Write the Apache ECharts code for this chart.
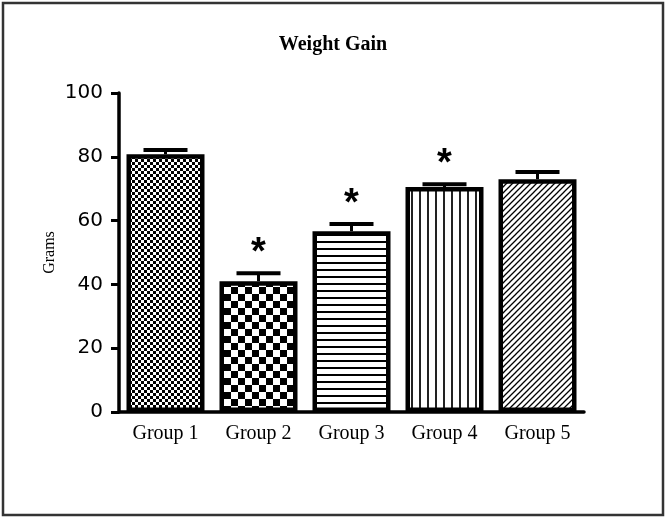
<!DOCTYPE html>
<html>
<head>
<meta charset="utf-8">
<script src="https://cdn.jsdelivr.net/npm/echarts@6/dist/echarts.min.js"></script>
<style>
html,body{margin:0;padding:0;background:#fff;}
#chart{width:666px;height:518px;}
</style>
</head>
<body>
<div id="chart"></div>
<script>
// ---- data ----
const categories = ['Group 1', 'Group 2', 'Group 3', 'Group 4', 'Group 5'];
const means = [80.8, 41.0, 56.7, 70.5, 73.0];
const errors = [1.3, 2.5, 2.2, 0.9, 2.2];
const significant = [false, true, true, true, false];
const yTicks = { min: 0, max: 100, interval: 20 };

// ---- fill patterns ----
function makePattern(w, h, draw) {
  const c = document.createElement('canvas');
  c.width = w; c.height = h;
  const ctx = c.getContext('2d');
  ctx.fillStyle = '#fff';
  ctx.fillRect(0, 0, w, h);
  ctx.fillStyle = '#000';
  ctx.strokeStyle = '#000';
  draw(ctx, w, h);
  return { image: c, repeat: 'repeat' };
}
const patterns = [
  makePattern(6, 6, (ctx) => { ctx.fillRect(0, 0, 3, 3); ctx.fillRect(3, 3, 3, 3); }),
  makePattern(14, 14, (ctx) => { ctx.fillRect(0, 0, 7, 7); ctx.fillRect(7, 7, 7, 7); }),
  makePattern(10, 7, (ctx) => { ctx.fillRect(0, 3, 10, 2); }),
  makePattern(8, 10, (ctx) => { ctx.fillStyle = '#222'; ctx.fillRect(3, 0, 2, 10); }),
  makePattern(6, 6, (ctx, w, h) => {
    ctx.lineWidth = 1.3;
    ctx.beginPath();
    ctx.moveTo(-1, 7); ctx.lineTo(7, -1);
    ctx.moveTo(-4, 4); ctx.lineTo(4, -4);
    ctx.moveTo(2, 10); ctx.lineTo(10, 2);
    ctx.stroke();
  })
];

const chart = echarts.init(document.getElementById('chart'), null, { renderer: 'canvas' });

const option = {
  backgroundColor: '#fff',
  animation: false,
  title: {
    text: 'Weight Gain',
    left: 'center',
    top: 30,
    textStyle: { fontFamily: 'Liberation Serif', fontWeight: 'bold', fontSize: 20, color: '#000' }
  },
  graphic: [{
    type: 'rect',
    shape: { x: 3, y: 3, width: 660, height: 512 },
    style: { fill: 'none', stroke: '#333', lineWidth: 2.5 },
    silent: true
  }],
  grid: { left: 119, right: 82, top: 93, bottom: 106, containLabel: false },
  xAxis: {
    type: 'category',
    data: categories,
    boundaryGap: true,
    axisLine: { lineStyle: { color: '#000', width: 3.5 } },
    axisTick: { alignWithLabel: true, length: 8, lineStyle: { color: '#000', width: 3 } },
    axisLabel: { margin: 12, fontFamily: 'Liberation Serif', fontSize: 20, color: '#000' },
    splitLine: { show: false }
  },
  yAxis: {
    type: 'value',
    min: yTicks.min, max: yTicks.max, interval: yTicks.interval,
    name: 'Grams',
    nameLocation: 'middle',
    nameGap: 61,
    nameMoveOverlap: false,
    nameRotate: 90,
    nameTextStyle: { fontFamily: 'Liberation Serif', fontSize: 16, color: '#000' },
    axisLine: { show: true, lineStyle: { color: '#000', width: 3.5 } },
    axisTick: { show: true, inside: false, length: 8, lineStyle: { color: '#000', width: 3 } },
    axisLabel: { margin: 16, fontFamily: 'DejaVu Sans', fontSize: 20, color: '#000' },
    splitLine: { show: false }
  },
  series: [
    {
      type: 'bar',
      barWidth: 78,
      data: means.map((v, i) => ({ value: v, itemStyle: { color: patterns[i] } })),
      itemStyle: { borderColor: '#000', borderWidth: 4.5 },
      z: 2
    },
    {
      type: 'custom',
      z: 3,
      data: categories.map((c, i) => [i, means[i], errors[i], significant[i] ? 1 : 0]),
      renderItem: function (params, api) {
        const x = api.value(0), v = api.value(1), e = api.value(2), s = api.value(3);
        const base = api.coord([x, v]);
        const top = api.coord([x, v + e]);
        const children = [
          { type: 'line', shape: { x1: base[0], y1: base[1], x2: top[0], y2: top[1] }, style: { stroke: '#000', lineWidth: 3 } },
          { type: 'line', shape: { x1: top[0] - 22, y1: top[1], x2: top[0] + 22, y2: top[1] }, style: { stroke: '#000', lineWidth: 4 } }
        ];
        if (s) {
          children.push({
            type: 'text',
            style: {
              text: '*', x: top[0], y: top[1] - 20,
              align: 'center', verticalAlign: 'middle',
              fontFamily: 'Liberation Sans', fontWeight: 'bold', fontSize: 38, fill: '#000'
            }
          });
        }
        return { type: 'group', children: children };
      }
    }
  ]
};
chart.setOption(option);
</script>
</body>
</html>
